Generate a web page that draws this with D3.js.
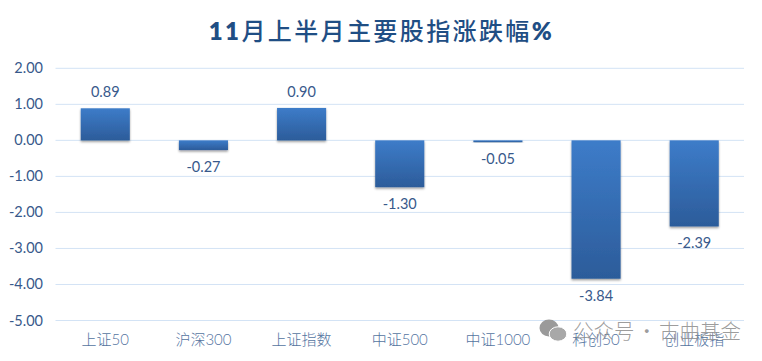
<!DOCTYPE html>
<html><head><meta charset="utf-8">
<style>html,body{margin:0;padding:0;background:#fff}svg{display:block}</style>
<script src="https://cdn.jsdelivr.net/npm/d3@7"></script></head>
<body><svg id="c" width="762" height="361"></svg>
<script>
const categories=["上证50","沪深300","上证指数","中证500","中证1000","科创50","创业板指"];
const values=[0.89,-0.27,0.90,-1.30,-0.05,-3.84,-2.39];
const valueLabels=["0.89","-0.27","0.90","-1.30","-0.05","-3.84","-2.39"];
const ticks=[2,1,0,-1,-2,-3,-4,-5];
const titleParts=[["11",800],["月上半月主要股指涨跌幅",500],["%",800]];
const watermark="公众号 · 古曲基金";
const font="Lato,'Noto Sans CJK SC',sans-serif";
const svg=d3.select("#c");
const defs=svg.append("defs");
const grad=defs.append("linearGradient").attr("id","g").attr("x1",0).attr("x2",0).attr("y1",0).attr("y2",1);
grad.append("stop").attr("offset","0%").attr("stop-color","#3d7cc9");
grad.append("stop").attr("offset","100%").attr("stop-color","#2c5c9a");
const f=defs.append("filter").attr("id","s").attr("x","-20%").attr("y","-20%").attr("width","140%").attr("height","150%");
f.append("feDropShadow").attr("dx",0).attr("dy",1.5).attr("stdDeviation",1.2).attr("flood-color","#000").attr("flood-opacity",0.4);
const y=d3.scaleLinear().domain([-5,2]).range([320.5,68.3]);
const x=d3.scaleBand().domain(categories).range([56.2,743.3]).paddingInner(0.5).paddingOuter(0.25);
const ink="#38598b";
const t=svg.append("text").attr("x",381.5).attr("y",40).attr("text-anchor","middle").attr("font-family",font)
 .attr("font-size",24).attr("fill","#1f4e84").attr("letter-spacing",2.4);
t.selectAll("tspan").data(titleParts).join("tspan").attr("font-weight",d=>d[1]).text(d=>d[0]);
svg.append("g").selectAll("line").data(ticks).join("line")
 .attr("x1",55.5).attr("x2",744).attr("y1",d=>y(d)).attr("y2",d=>y(d)).attr("stroke","#d3e3f5").attr("stroke-width",1);
svg.append("g").selectAll("text").data(ticks).join("text")
 .attr("x",43).attr("y",d=>y(d)+5).attr("text-anchor","end").attr("font-family",font).attr("font-size",14.5).attr("fill",ink)
 .text(d=>d3.format(".2f")(d).replace("−","-"));
svg.append("g").selectAll("rect").data(values).join("rect")
 .attr("x",(d,i)=>x(categories[i])).attr("width",x.bandwidth())
 .attr("y",d=>y(Math.max(0,d))).attr("height",d=>Math.abs(y(d)-y(0)))
 .attr("fill","url(#g)").attr("filter","url(#s)");
svg.append("g").selectAll("text").data(values).join("text")
 .attr("x",(d,i)=>x(categories[i])+x.bandwidth()/2)
 .attr("y",d=>d>=0?y(d)-11:y(d)+22).attr("text-anchor","middle").attr("font-family",font).attr("font-size",14.5).attr("fill",ink)
 .text((d,i)=>valueLabels[i]);
svg.append("g").selectAll("text").data(categories).join("text")
 .attr("x",d=>x(d)+x.bandwidth()/2).attr("y",345).attr("text-anchor","middle").attr("font-family",font).attr("font-weight",300).attr("font-size",15).attr("fill","#54749f").text(d=>d);
const wm=svg.append("g");
wm.append("ellipse").attr("cx",549).attr("cy",328).attr("rx",9.5).attr("ry",8.5).attr("fill","#9a9a9a");
wm.append("ellipse").attr("cx",558).attr("cy",334).attr("rx",8.8).attr("ry",7.2).attr("fill","#a8a8a8").attr("stroke","#fff").attr("stroke-width",1);
wm.append("text").attr("x",573).attr("y",339).attr("font-family","'Noto Sans CJK SC',sans-serif").attr("font-weight",300).attr("font-size",20.5).attr("word-spacing",-2.5).attr("fill","#8c8c8c").attr("fill-opacity",0.85).text(watermark);
</script></body></html>
